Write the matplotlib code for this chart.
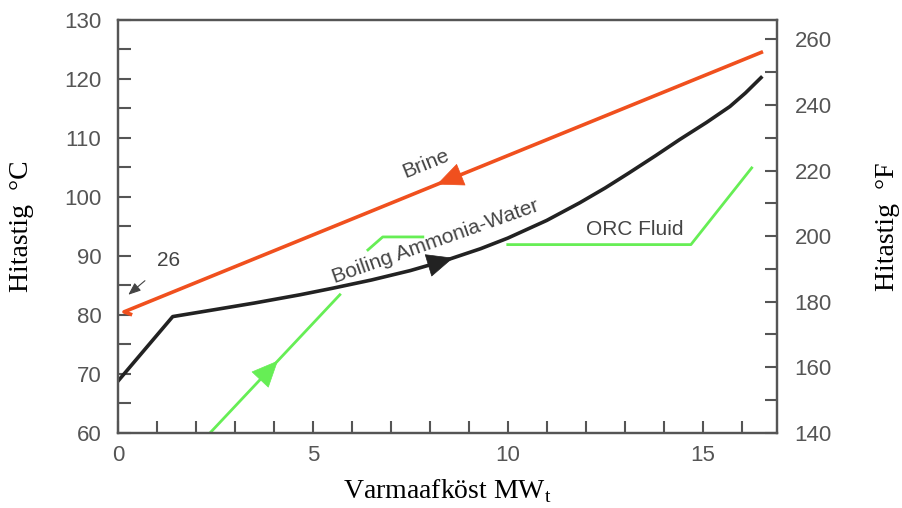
import numpy as np
import matplotlib
matplotlib.use('Agg')
import matplotlib.pyplot as plt
from matplotlib.ticker import MultipleLocator

# data (MW, deg C)
brine_x = [0.36, 0.15, 16.55]
brine_y = [80.0, 80.5, 124.6]

ammonia_x = [0.0, 1.4, 2.5, 3.5, 4.67, 5.5, 6.5, 7.5, 8.44, 9.3, 10.0,
             11.0, 11.85, 12.5, 13.1, 13.8, 14.41, 15.1, 15.7, 16.1, 16.5]
ammonia_y = [68.8, 79.7, 80.9, 82.0, 83.4, 84.5, 85.9, 87.5, 89.3, 91.2, 93.0,
             96.0, 99.0, 101.5, 104.0, 107.0, 109.7, 112.6, 115.3, 117.6, 120.2]

# ORC fluid line, broken where the labels sit
orc_x = [2.36, 5.69, np.nan, 6.41, 6.79, 7.82, np.nan, 10.0, 14.7, 16.26]
orc_y = [60.0, 83.4, np.nan, 91.0, 93.2, 93.2, np.nan, 91.9, 91.9, 104.9]

c_brine = '#f0501e'
c_amm = '#222222'
c_orc = '#66ee55'
c_text = '#555555'

plt.rcParams['font.family'] = 'Liberation Sans'

fig = plt.figure(figsize=(9.02, 5.08), dpi=100)
ax = fig.add_axes([0.131, 0.148, 0.730, 0.813])

ax.plot(brine_x, brine_y, color=c_brine, lw=2.6, solid_capstyle='butt')
ax.plot(ammonia_x, ammonia_y, color=c_amm, lw=2.6)
ax.plot(orc_x, orc_y, color=c_orc, lw=2.0)


def arrow(xs, ys, x_tip, x_tail, color):
    xs = np.asarray(xs, dtype=float)
    ys = np.asarray(ys, dtype=float)
    ok = ~np.isnan(xs)
    xs, ys = xs[ok], ys[ok]
    order = np.argsort(xs)
    tip = (x_tip, np.interp(x_tip, xs[order], ys[order]))
    tail = (x_tail, np.interp(x_tail, xs[order], ys[order]))
    ax.annotate('', xy=tip, xytext=tail,
                arrowprops=dict(arrowstyle='-|>,head_length=0.9,head_width=0.4',
                                mutation_scale=20, color=color, lw=0.5,
                                shrinkA=0, shrinkB=0))


arrow(brine_x[1:], brine_y[1:], 8.18, 8.75, c_brine)
arrow(ammonia_x, ammonia_y, 8.6, 8.05, c_amm)
arrow(orc_x[:2], orc_y[:2], 4.1, 3.55, c_orc)

# labels on the curves
ax.text(7.9, 105.6, 'Brine', rotation=22, color='#444444', fontsize=15,
        ha='center', va='center')
ax.text(8.15, 92.4, 'Boiling Ammonia-Water', rotation=19.5, color='#444444',
        fontsize=15, ha='center', va='center')
ax.text(13.26, 94.4, 'ORC Fluid', color='#444444', fontsize=15,
        ha='center', va='center')
ax.annotate('26', xy=(0.26, 83.4), xytext=(1.3, 89.2), color='#444444',
            fontsize=15, ha='center', va='center',
            arrowprops=dict(arrowstyle='-|>,head_length=0.5,head_width=0.2',
                            color='#444444', lw=0.8, shrinkA=9, shrinkB=0))

ax.set_xlim(0, 16.9)
ax.set_ylim(60, 130)
ax.xaxis.set_major_locator(MultipleLocator(5))
ax.xaxis.set_minor_locator(MultipleLocator(1))
ax.yaxis.set_major_locator(MultipleLocator(10))
ax.yaxis.set_minor_locator(MultipleLocator(5))

ax2 = ax.twinx()
ax2.set_ylim(60 * 9 / 5 + 32, 130 * 9 / 5 + 32)
ax2.yaxis.set_major_locator(MultipleLocator(20))
ax2.yaxis.set_minor_locator(MultipleLocator(10))

for a in (ax, ax2):
    for s in a.spines.values():
        s.set_color(c_text)
        s.set_linewidth(1.6)
    a.tick_params(which='both', direction='in', length=9, width=1.5,
                  color=c_text, labelcolor=c_text, labelsize=16)
ax.tick_params(axis='y', pad=12)
ax.tick_params(axis='x', pad=9)
ax2.tick_params(axis='y', pad=13)

serif = dict(family='Liberation Serif', fontsize=20, color='black')
ax.set_xlabel('Varmaafköst MW$_\\mathregular{t}$', labelpad=8, **serif)
ax.set_ylabel('Hitastig  °C', labelpad=22, **serif)
ax2.set_ylabel('Hitastig  °F', labelpad=31, **serif)

fig.savefig('out.png', dpi=100)
